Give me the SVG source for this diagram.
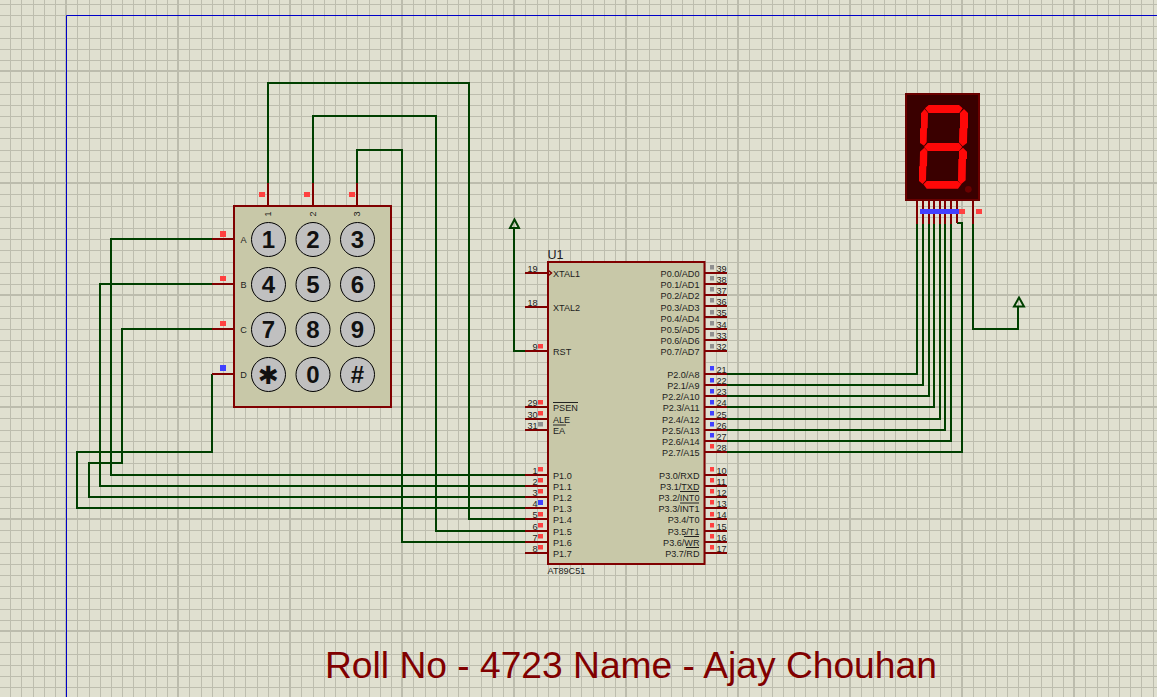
<svg xmlns="http://www.w3.org/2000/svg" width="1157" height="697" viewBox="0 0 1157 697">
<style>
text{font-family:"Liberation Sans",Arial,sans-serif;fill:#1c1c1c}
.w{fill:none;stroke:#004000;stroke-width:2}
.p{fill:none;stroke:#800000;stroke-width:2}
.o{fill:none;stroke:#222;stroke-width:1}
.b{fill:#c8c8a8;stroke:#800000;stroke-width:2}
.k{fill:#c0c0c0;stroke:#000;stroke-width:1}
.kt{font-size:24px;font-weight:bold;text-anchor:middle;fill:#111}
.s{font-size:9.1px}
.e{font-size:9.1px;text-anchor:end}
.r{fill:#ff4040}.u{fill:#4040ff}.g{fill:#909090}
.seg{fill:#ff0808}
</style>
<rect width="1157" height="697" fill="#e0e0d0"/>
<path id="grid" fill="none" stroke="#bdbdae" stroke-width="1" shape-rendering="crispEdges" d="M10.500 0V697M21.500 0V697M33.500 0V697M44.500 0V697M55.500 0V697M77.500 0V697M89.500 0V697M100.500 0V697M111.500 0V697M122.500 0V697M133.500 0V697M145.500 0V697M156.500 0V697M167.500 0V697M189.500 0V697M201.500 0V697M212.500 0V697M223.500 0V697M234.500 0V697M245.500 0V697M257.500 0V697M268.500 0V697M279.500 0V697M301.500 0V697M313.500 0V697M324.500 0V697M335.500 0V697M346.500 0V697M357.500 0V697M369.500 0V697M380.500 0V697M391.500 0V697M413.500 0V697M425.500 0V697M436.500 0V697M447.500 0V697M458.500 0V697M469.500 0V697M481.500 0V697M492.500 0V697M503.500 0V697M525.500 0V697M537.500 0V697M548.500 0V697M559.500 0V697M570.500 0V697M581.500 0V697M593.500 0V697M604.500 0V697M615.500 0V697M637.500 0V697M649.500 0V697M660.500 0V697M671.500 0V697M682.500 0V697M693.500 0V697M705.500 0V697M716.500 0V697M727.500 0V697M749.500 0V697M761.500 0V697M772.500 0V697M783.500 0V697M794.500 0V697M805.500 0V697M817.500 0V697M828.500 0V697M839.500 0V697M861.500 0V697M873.500 0V697M884.500 0V697M895.500 0V697M906.500 0V697M917.500 0V697M929.500 0V697M940.500 0V697M951.500 0V697M973.500 0V697M985.500 0V697M996.500 0V697M1007.500 0V697M1018.500 0V697M1029.500 0V697M1041.500 0V697M1052.500 0V697M1063.500 0V697M1085.500 0V697M1097.500 0V697M1108.500 0V697M1119.500 0V697M1130.500 0V697M1141.500 0V697M1153.500 0V697M0 4.500H1157M0 15.500H1157M0 26.500H1157M0 38.500H1157M0 49.500H1157M0 60.500H1157M0 82.500H1157M0 94.500H1157M0 105.500H1157M0 116.500H1157M0 127.500H1157M0 138.500H1157M0 150.500H1157M0 161.500H1157M0 172.500H1157M0 194.500H1157M0 206.500H1157M0 217.500H1157M0 228.500H1157M0 239.500H1157M0 250.500H1157M0 262.500H1157M0 273.500H1157M0 284.500H1157M0 306.500H1157M0 318.500H1157M0 329.500H1157M0 340.500H1157M0 351.500H1157M0 362.500H1157M0 374.500H1157M0 385.500H1157M0 396.500H1157M0 418.500H1157M0 430.500H1157M0 441.500H1157M0 452.500H1157M0 463.500H1157M0 474.500H1157M0 486.500H1157M0 497.500H1157M0 508.500H1157M0 530.500H1157M0 542.500H1157M0 553.500H1157M0 564.500H1157M0 575.500H1157M0 586.500H1157M0 598.500H1157M0 609.500H1157M0 620.500H1157M0 642.500H1157M0 654.500H1157M0 665.500H1157M0 676.500H1157M0 687.500H1157"/>
<path id="gridmajor" fill="none" stroke="#bcbcad" stroke-width="2" shape-rendering="crispEdges" d="M66 0V697M178 0V697M290 0V697M402 0V697M514 0V697M626 0V697M738 0V697M850 0V697M962 0V697M1074 0V697M0 71H1157M0 183H1157M0 295H1157M0 407H1157M0 519H1157M0 631H1157"/>
<path d="M66.500 697V15.500H1157" fill="none" stroke="#0000c8" stroke-width="1"/>
<g id="connectors">
<path class="w" d="M268 183V83H469V519H525"/>
<path class="w" d="M313 183V116H436V531H525"/>
<path class="w" d="M357 183V150H402V542H525"/>
<path class="w" d="M212 239H111V475H525"/>
<path class="w" d="M212 284H100V486H525"/>
<path class="w" d="M212 329H122V463H89V497H525"/>
<path class="w" d="M212 374V452H77V508H525"/>
<path class="w" d="M525 351H514V228"/>
<path class="w" d="M727 374H917V224"/>
<path class="w" d="M727 385H923V224"/>
<path class="w" d="M727 396H929V224"/>
<path class="w" d="M727 407H934V224"/>
<path class="w" d="M727 419H940V224"/>
<path class="w" d="M727 430H945V224"/>
<path class="w" d="M727 441H951V224"/>
<path class="w" d="M727 452H962V223H957"/>
<path class="w" d="M973 224V329H1018V306"/>
<path d="M514.500 219.500L519 228H510Z" fill="none" stroke="#004000" stroke-width="2"/>
<path d="M1019 297.500L1024 306.500H1014Z" fill="none" stroke="#004000" stroke-width="2"/>
</g>
<g id="keypad">
<path class="p" d="M268 183V206M313 183V206M357 183V206M212 239H234M212 284H234M212 329H234M212 374H234"/>
<rect class="b" x="234" y="206" width="157" height="201"/>
<rect class="r" x="259" y="192" width="6" height="5"/><rect class="r" x="304" y="192" width="6" height="5"/><rect class="r" x="349" y="192" width="6" height="5"/>
<rect class="r" x="220" y="231" width="6" height="6"/><rect class="r" x="220" y="276" width="6" height="5"/><rect class="r" x="220" y="321" width="6" height="5"/><rect class="u" x="220" y="365" width="6" height="6"/>
<text class="s" text-anchor="middle" x="243.500" y="243">A</text><text class="s" text-anchor="middle" x="243.500" y="288">B</text><text class="s" text-anchor="middle" x="243.500" y="333">C</text><text class="s" text-anchor="middle" x="243.500" y="378">D</text>
<text class="s" text-anchor="middle" transform="translate(271 214) rotate(-90)">1</text><text class="s" text-anchor="middle" transform="translate(316 214) rotate(-90)">2</text><text class="s" text-anchor="middle" transform="translate(360 214) rotate(-90)">3</text>
<circle class="k" cx="268.500" cy="239.500" r="17"/><circle class="k" cx="313" cy="239.500" r="17"/><circle class="k" cx="357.500" cy="239.500" r="17"/>
<circle class="k" cx="268.500" cy="284.500" r="17"/><circle class="k" cx="313" cy="284.500" r="17"/><circle class="k" cx="357.500" cy="284.500" r="17"/>
<circle class="k" cx="268.500" cy="329.500" r="17"/><circle class="k" cx="313" cy="329.500" r="17"/><circle class="k" cx="357.500" cy="329.500" r="17"/>
<circle class="k" cx="268.500" cy="374.500" r="17"/><circle class="k" cx="313" cy="374.500" r="17"/><circle class="k" cx="357.500" cy="374.500" r="17"/>
<text class="kt" x="268.500" y="248">1</text><text class="kt" x="313" y="248">2</text><text class="kt" x="357.500" y="248">3</text>
<text class="kt" x="268.500" y="293">4</text><text class="kt" x="313" y="293">5</text><text class="kt" x="357.500" y="293">6</text>
<text class="kt" x="268.500" y="338">7</text><text class="kt" x="313" y="338">8</text><text class="kt" x="357.500" y="338">9</text>
<text class="kt" x="268.500" y="383.500" style="font-size:25px;font-family:'DejaVu Sans',sans-serif;font-weight:normal">✱</text><text class="kt" x="313" y="383">0</text><text class="kt" x="357.500" y="383">#</text>
</g>
<g id="U1">
<path class="p" d="M525 273H548M525 307H548M525 351H548M525 407H548M525 419H548M525 430H548M525 475H548M525 486H548M525 497H548M525 508H548M525 519H548M525 531H548M525 542H548M525 553H548"/>
<path class="p" d="M704 273H727M704 284H727M704 295H727M704 306H727M704 317H727M704 329H727M704 340H727M704 351H727M704 374H727M704 385H727M704 396H727M704 407H727M704 419H727M704 430H727M704 441H727M704 452H727M704 475H727M704 486H727M704 497H727M704 508H727M704 519H727M704 531H727M704 542H727M704 553H727"/>
<rect class="b" x="548" y="262" width="156.500" height="302"/>
<path d="M548.500 270.500L551.500 273L548.500 275.500" fill="none" stroke="#800000" stroke-width="1.500"/>
<text x="547.500" y="259" style="font-size:12.500px">U1</text>
<text class="s" x="547.500" y="573.500">AT89C51</text>
<text class="s" x="553" y="277">XTAL1</text><text class="s" x="553" y="311">XTAL2</text><text class="s" x="553" y="355">RST</text>
<text class="s" x="553" y="411">PSEN</text><text class="s" x="553" y="423">ALE</text><text class="s" x="553" y="434">EA</text>
<text class="s" x="553" y="479">P1.0</text><text class="s" x="553" y="490">P1.1</text><text class="s" x="553" y="501">P1.2</text><text class="s" x="553" y="512">P1.3</text><text class="s" x="553" y="523">P1.4</text><text class="s" x="553" y="535">P1.5</text><text class="s" x="553" y="546">P1.6</text><text class="s" x="553" y="557">P1.7</text>
<text class="e" x="699.500" y="277">P0.0/AD0</text><text class="e" x="699.500" y="288">P0.1/AD1</text><text class="e" x="699.500" y="299">P0.2/AD2</text><text class="e" x="699.500" y="311">P0.3/AD3</text><text class="e" x="699.500" y="322">P0.4/AD4</text><text class="e" x="699.500" y="333">P0.5/AD5</text><text class="e" x="699.500" y="344">P0.6/AD6</text><text class="e" x="699.500" y="355">P0.7/AD7</text>
<text class="e" x="699.500" y="378">P2.0/A8</text><text class="e" x="699.500" y="389">P2.1/A9</text><text class="e" x="699.500" y="400">P2.2/A10</text><text class="e" x="699.500" y="411">P2.3/A11</text><text class="e" x="699.500" y="423">P2.4/A12</text><text class="e" x="699.500" y="434">P2.5/A13</text><text class="e" x="699.500" y="445">P2.6/A14</text><text class="e" x="699.500" y="456">P2.7/A15</text>
<text class="e" x="699.500" y="479">P3.0/RXD</text><text class="e" x="699.500" y="490">P3.1/TXD</text><text class="e" x="699.500" y="501">P3.2/INT0</text><text class="e" x="699.500" y="512">P3.3/INT1</text><text class="e" x="699.500" y="523">P3.4/T0</text><text class="e" x="699.500" y="535">P3.5/T1</text><text class="e" x="699.500" y="546">P3.6/WR</text><text class="e" x="699.500" y="557">P3.7/RD</text>
<path class="o" d="M553 402.500H578M553 425H566M680 491.500H699M680 503H699M684 536.500H699M686 547.500H699"/>
<text class="e" x="537.500" y="271.500">19</text><text class="e" x="537.500" y="305.500">18</text><text class="e" x="537.500" y="349.500">9</text><text class="e" x="537.500" y="405.500">29</text><text class="e" x="537.500" y="418">30</text><text class="e" x="537.500" y="429">31</text>
<text class="e" x="537.500" y="474">1</text><text class="e" x="537.500" y="485">2</text><text class="e" x="537.500" y="496">3</text><text class="e" x="537.500" y="507">4</text><text class="e" x="537.500" y="518">5</text><text class="e" x="537.500" y="530">6</text><text class="e" x="537.500" y="541">7</text><text class="e" x="537.500" y="552">8</text>
<text class="s" x="716.500" y="272">39</text><text class="s" x="716.500" y="283">38</text><text class="s" x="716.500" y="294">37</text><text class="s" x="716.500" y="305">36</text><text class="s" x="716.500" y="316">35</text><text class="s" x="716.500" y="328">34</text><text class="s" x="716.500" y="339">33</text><text class="s" x="716.500" y="350">32</text>
<text class="s" x="716.500" y="373">21</text><text class="s" x="716.500" y="384">22</text><text class="s" x="716.500" y="395">23</text><text class="s" x="716.500" y="406">24</text><text class="s" x="716.500" y="418">25</text><text class="s" x="716.500" y="429">26</text><text class="s" x="716.500" y="440">27</text><text class="s" x="716.500" y="451">28</text>
<text class="s" x="716.500" y="474">10</text><text class="s" x="716.500" y="485">11</text><text class="s" x="716.500" y="496">12</text><text class="s" x="716.500" y="507">13</text><text class="s" x="716.500" y="518">14</text><text class="s" x="716.500" y="530">15</text><text class="s" x="716.500" y="541">16</text><text class="s" x="716.500" y="552">17</text>
<g class="r"><rect x="538" y="344" width="5" height="4.500"/><rect x="538" y="400" width="5" height="4.500"/><rect x="538" y="411" width="5" height="4.500"/><rect x="538" y="467" width="5" height="4.500"/><rect x="538" y="478" width="5" height="4.500"/><rect x="538" y="489" width="5" height="4.500"/><rect x="538" y="512" width="5" height="4.500"/><rect x="538" y="523" width="5" height="4.500"/><rect x="538" y="534" width="5" height="4.500"/><rect x="538" y="545" width="5" height="4.500"/>
<rect x="710" y="444" width="4" height="4.500"/><rect x="710" y="467" width="4" height="4.500"/><rect x="710" y="478" width="4" height="4.500"/><rect x="710" y="489" width="4" height="4.500"/><rect x="710" y="500" width="4" height="4.500"/><rect x="710" y="512" width="4" height="4.500"/><rect x="710" y="523" width="4" height="4.500"/><rect x="710" y="534" width="4" height="4.500"/><rect x="710" y="545" width="4" height="4.500"/></g>
<g class="u"><rect x="538" y="500" width="5" height="5"/><rect x="710" y="366" width="4" height="4.500"/><rect x="710" y="378" width="4" height="4.500"/><rect x="710" y="389" width="4" height="4.500"/><rect x="710" y="400" width="4" height="4.500"/><rect x="710" y="411" width="4" height="4.500"/><rect x="710" y="422" width="4" height="4.500"/><rect x="710" y="433" width="4" height="4.500"/></g>
<g class="g"><rect x="538" y="422" width="5" height="4.500"/><rect x="710" y="265" width="4" height="4.500"/><rect x="710" y="276" width="4" height="4.500"/><rect x="710" y="287" width="4" height="4.500"/><rect x="710" y="298" width="4" height="4.500"/><rect x="710" y="310" width="4" height="4.500"/><rect x="710" y="321" width="4" height="4.500"/><rect x="710" y="332" width="4" height="4.500"/><rect x="710" y="344" width="4" height="4.500"/></g>
</g>
<g id="display">
<path class="p" d="M917 200V224M923 200V224M929 200V224M934 200V224M940 200V224M945 200V224M951 200V224M957 200V223M973 200V224"/>
<rect x="906" y="94" width="73" height="106" fill="#3a0000" stroke="#6a0000" stroke-width="2"/>
<g transform="translate(890 85) scale(.33333)">
<polygon class="seg" points="105,70 116,60 207,60 218,70 208,84 116,84"/>
<polygon class="seg" points="93,85 104,72 114,84 113,130 111,130 110,172 102,182 90,174 90,130 93,130"/>
<polygon class="seg" points="210,84 222,72 234,84 234,130 232,130 231,174 218,184 207,172 208,130 210,130"/>
<polygon class="seg" points="102,186 113,174 207,174 217,186 207,198 113,198"/>
<polygon class="seg" points="90,200 103,188 112,198 111,244 109,244 108,286 98,297 87,288 87,244 89,244"/>
<polygon class="seg" points="207,198 219,188 231,200 231,222 228,222 227,286 213,298 204,287 205,222 207,222"/>
<polygon class="seg" points="100,298 110,288 203,288 214,298 204,311 110,311"/>
<circle cx="235" cy="313" r="10" fill="#6a0000"/>
</g>
<rect class="u" x="920" y="209" width="39" height="5"/>
<rect class="r" x="959" y="209" width="6" height="5"/>
<rect class="r" x="976" y="209" width="6" height="5"/>
</g>
<text x="325" y="678" style="font-size:37.200px;fill:#800000">Roll No - 4723 Name - Ajay Chouhan</text>
</svg>
